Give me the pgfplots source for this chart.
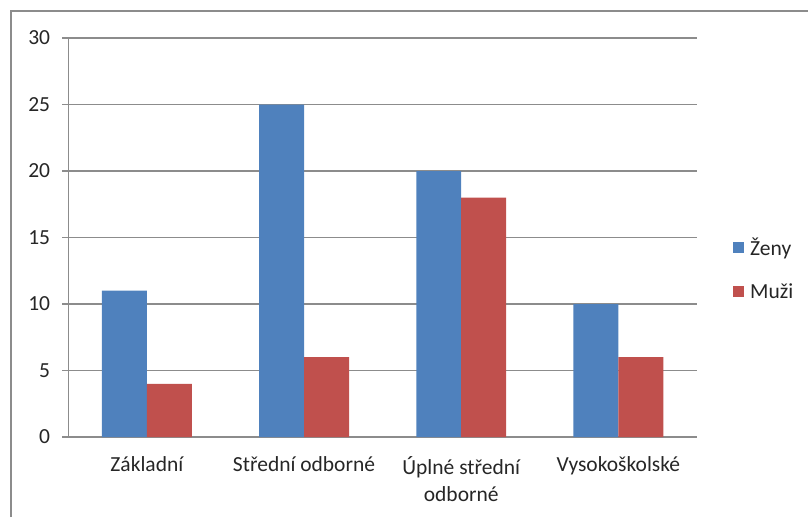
\documentclass[border=0pt]{standalone}
\usepackage{pgfplots}
\pgfplotsset{compat=1.18}
\usepackage{fontspec}
\setmainfont{Carlito}
\definecolor{zblue}{HTML}{4F81BD}
\definecolor{zred}{HTML}{C0504D}
\definecolor{gline}{HTML}{8C8C8C}
\definecolor{txt}{HTML}{262626}
\begin{document}
\begin{tikzpicture}
\useasboundingbox (0pt,0pt) rectangle (808pt,517pt);
\draw[gline, line width=2pt] (11pt,0pt) -- (11pt,506pt) -- (808pt,506pt);
\begin{axis}[
  at={(68.3pt,80pt)}, anchor=south west,
  scale only axis, width=628.7pt, height=399pt,
  ymin=0, ymax=30, ytick={0,5,...,30},
  xmin=-0.5, xmax=3.5,
  xtick={0,1,2,3},
  xticklabels={Základní, Střední odborné, {Úplné střední\\odborné}, Vysokoškolské},
  xticklabel style={align=center, inner sep=0pt, yshift=-13pt, font=\fontsize{21.5}{27}\selectfont, text=txt},
  yticklabel style={inner sep=0pt, xshift=-12pt, font=\fontsize{21.5}{26}\selectfont, text=txt},
  major x tick style={draw=none},
  extra x ticks={-0.5,0.5,1.5,2.5,3.5},
  extra x tick labels={},
  extra x tick style={major tick length=7pt, tick style={gline, line width=1.2pt}, grid=none},
  tick align=outside,
  major tick length=6pt,
  ytick style={gline, line width=1.2pt},
  ymajorgrids, grid style={gline, line width=1.2pt},
  axis line style={gline, line width=1.2pt},
  axis x line*=bottom, axis y line*=left,
  ybar, bar width=0.286,
  /pgf/number format/assume math mode=true,
  legend style={draw=none, at={(1,0.421)}, anchor=west, xshift=36pt, inner sep=0pt,
    row sep=22pt, font=\fontsize{21.5}{26}\selectfont, text=txt,
    /tikz/every odd column/.style={column sep=4pt}},
  legend cell align=left,
  legend image code/.code={\fill[#1] (0pt,-5.5pt) rectangle (11pt,5.5pt);},
]
\addplot[fill=zblue, draw=none, bar shift=-0.143] coordinates {(0,11) (1,25) (2,20) (3,10)};
\addplot[fill=zred, draw=none, bar shift=0.143] coordinates {(0,4) (1,6) (2,18) (3,6)};
\legend{Ženy, Muži}
\end{axis}
\end{tikzpicture}
\end{document}
